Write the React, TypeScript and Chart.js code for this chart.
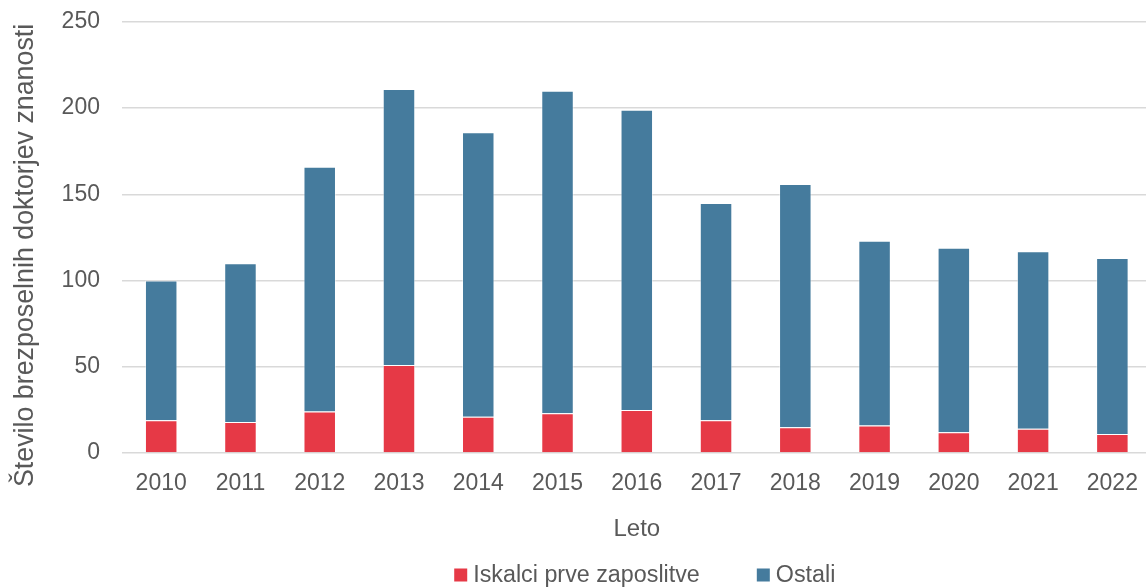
import React, { useEffect, useRef } from "react";
import { Chart, registerables } from "chart.js";

Chart.register(...registerables);

const years = ["2010", "2011", "2012", "2013", "2014", "2015", "2016", "2017", "2018", "2019", "2020", "2021", "2022"];
const firstJobSeekers = [19, 18, 24, 51, 21, 23, 25, 19, 15, 16, 12, 14, 11];
const others = [81, 92, 142, 160, 165, 187, 174, 126, 141, 107, 107, 103, 102];
const yTickValues = [0, 50, 100, 150, 200, 250];
const seriesNames = ["Iskalci prve zaposlitve", "Ostali"];
const seriesColors = ["#E63946", "#457B9D"];
const yTitle = "Število brezposelnih doktorjev znanosti";
const xTitle = "Leto";

const FONT = "'Liberation Sans', Arial, Helvetica, sans-serif";
const TEXT = "#595959";

const yTitlePlugin = {
  id: "excelYTitle",
  afterDraw(chart: any) {
    const ctx = chart.ctx as CanvasRenderingContext2D;
    const area = chart.chartArea;
    ctx.save();
    ctx.font = `26.8px ${FONT}`;
    ctx.fillStyle = TEXT;
    ctx.textAlign = "center";
    ctx.textBaseline = "alphabetic";
    ctx.translate(33, (area.top + area.bottom) / 2 + 18);
    ctx.rotate(-Math.PI / 2);
    ctx.fillText(yTitle, 0, 0);
    ctx.restore();
  },
};

const legendPlugin = {
  id: "excelLegend",
  afterDraw(chart: any) {
    const ctx = chart.ctx as CanvasRenderingContext2D;
    const area = chart.chartArea;
    const box = 13;
    const gapBoxText = 6;
    const gapItems = 57;
    ctx.save();
    ctx.font = `23.3px ${FONT}`;
    ctx.textBaseline = "middle";
    ctx.textAlign = "left";
    const items = chart.data.datasets.map((ds: any) => ({
      text: ds.label as string,
      color: ds.backgroundColor as string,
      w: ctx.measureText(ds.label).width,
    }));
    const total =
      items.reduce((s: number, it: any) => s + box + gapBoxText + it.w, 0) + gapItems * (items.length - 1);
    let x = (area.left + area.right) / 2 + 8 - total / 2;
    const y = chart.height - 13;
    items.forEach((it: any) => {
      ctx.fillStyle = it.color;
      ctx.fillRect(x, y - box / 2, box, box);
      x += box + gapBoxText;
      ctx.fillStyle = TEXT;
      ctx.fillText(it.text, x, y + 1);
      x += it.w + gapItems;
    });
    ctx.restore();
  },
};

export default function App() {
  const ref = useRef<HTMLCanvasElement | null>(null);

  useEffect(() => {
    if (!ref.current) return;
    const barStyle = {
      borderColor: "rgba(255,255,255,0.45)",
      borderWidth: 1,
      barPercentage: 0.41,
      categoryPercentage: 1,
    };
    const chart = new Chart(ref.current, {
      type: "bar",
      data: {
        labels: years,
        datasets: [
          { label: seriesNames[0], data: firstJobSeekers, backgroundColor: seriesColors[0], ...barStyle },
          { label: seriesNames[1], data: others, backgroundColor: seriesColors[1], ...barStyle },
        ],
      },
      options: {
        responsive: false,
        animation: false,
        layout: { padding: { left: 53.6, right: 0, top: 0, bottom: 44.6 } },
        plugins: {
          legend: { display: false },
          tooltip: { enabled: false },
        },
        scales: {
          x: {
            stacked: true,
            grid: { display: false },
            border: { display: false },
            ticks: {
              color: TEXT,
              font: { size: 23, family: FONT },
              padding: 9,
              maxRotation: 0,
              autoSkip: false,
            },
            title: {
              display: true,
              text: xTitle,
              color: TEXT,
              font: { size: 24, family: FONT },
              padding: { top: 8, bottom: 0 },
            },
          },
          y: {
            stacked: true,
            min: 0,
            max: 250,
            afterBuildTicks: (scale: any) => {
              scale.ticks = yTickValues.map((v) => ({ value: v }));
            },
            grid: {
              color: "#d9d9d9",
              lineWidth: 1.5,
              drawTicks: true,
              tickLength: 13.6,
              tickColor: "rgba(0,0,0,0)",
            },
            border: { display: false },
            ticks: {
              color: TEXT,
              font: { size: 23, family: FONT },
              padding: 8,
            },
            title: { display: false },
          },
        },
      },
      plugins: [yTitlePlugin, legendPlugin],
    });
    return () => chart.destroy();
  }, []);

  return (
    <div
      style={{
        position: "fixed",
        left: 0,
        top: 0,
        width: 1146,
        height: 588,
        overflow: "hidden",
        background: "#fff",
      }}
    >
      <canvas ref={ref} width={1152} height={588} style={{ width: 1152, height: 588, display: "block" }} />
    </div>
  );
}
